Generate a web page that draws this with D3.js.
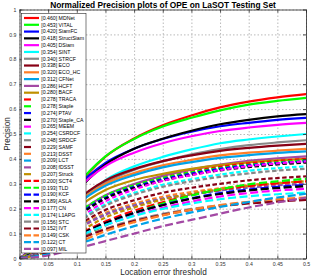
<!DOCTYPE html>
<html><head><meta charset="utf-8">
<script src="https://cdn.jsdelivr.net/npm/d3@7"></script>
<style>
body{margin:0;background:#fff}
svg{display:block;font-family:"Liberation Sans",Arial,sans-serif}
</style>
</head><body>
<svg id="c" width="311" height="277"></svg>
<script>
// ---------- data ----------
const thresholds = [0,0.05,0.1,0.15,0.2,0.25,0.3,0.35,0.4,0.45,0.5];
const xTickValues = [0,0.05,0.1,0.15,0.2,0.25,0.3,0.35,0.4,0.45,0.5];
const xTickLabels = ["0","0.05","0.1","0.15","0.2","0.25","0.3","0.35","0.4","0.45","0.5"];
const yTickValues = [0,0.1,0.2,0.3,0.4,0.5,0.6,0.7,0.8,0.9,1];
const yTickLabels = ["0","0.1","0.2","0.3","0.4","0.5","0.6","0.7","0.8","0.9","1"];

const trackers = ["MDNet","VITAL","SiamFC","StructSiam","DSiam","SINT","STRCF","ECO","ECO_HC","CFNet","HCFT","BACF",
  "TRACA","Staple","PTAV","Staple_CA","MEEM","CSRDCF","SRDCF","SAMF","DSST","LCT","fDSST","Struck",
  "SCT4","TLD","KCF","ASLA","CN","L1APG","STC","IVT","CSK","CT","MIL"];
const scores = [0.460,0.453,0.420,0.418,0.405,0.354,0.340,0.338,0.320,0.312,0.286,0.280,
  0.278,0.278,0.274,0.270,0.265,0.254,0.248,0.229,0.213,0.209,0.208,0.207,
  0.200,0.193,0.190,0.189,0.177,0.174,0.156,0.152,0.149,0.122,0.097];
const precision = [
  [0,.092,.284,.409,.482,.535,.574,.607,.630,.647,.660],
  [0,.095,.290,.410,.480,.530,.565,.595,.618,.633,.645],
  [0,.102,.283,.384,.441,.480,.509,.531,.545,.557,.565],
  [0,.093,.267,.377,.441,.481,.513,.539,.557,.571,.580],
  [0,.098,.273,.371,.425,.463,.491,.512,.526,.537,.545],
  [0,.075,.220,.315,.370,.408,.438,.463,.478,.490,.500],
  [0,.071,.214,.304,.356,.390,.418,.439,.455,.466,.475],
  [0,.083,.230,.313,.359,.391,.414,.432,.444,.453,.460],
  [0,.079,.220,.299,.343,.374,.396,.414,.425,.433,.440],
  [0,.077,.215,.292,.335,.366,.387,.404,.415,.424,.430],
  [0,.057,.176,.254,.299,.332,.357,.377,.392,.402,.410],
  [0,.070,.200,.275,.315,.340,.360,.375,.386,.394,.400],
  [0,.056,.172,.248,.292,.324,.348,.368,.382,.392,.400],
  [0,.060,.178,.252,.294,.324,.346,.363,.376,.386,.395],
  [0,.055,.170,.244,.287,.318,.341,.360,.374,.383,.390],
  [0,.054,.166,.240,.283,.313,.336,.354,.367,.378,.385],
  [0,.047,.152,.230,.277,.312,.335,.355,.371,.382,.390],
  [0,.044,.144,.218,.263,.296,.318,.337,.352,.363,.370],
  [0,.043,.140,.212,.256,.288,.310,.328,.342,.353,.360],
  [0,.040,.129,.195,.234,.264,.284,.300,.314,.323,.330],
  [0,.037,.121,.183,.220,.248,.267,.282,.295,.304,.310],
  [0,.036,.117,.177,.213,.240,.258,.273,.285,.294,.300],
  [0,.035,.115,.176,.212,.240,.259,.274,.286,.294,.300],
  [0,.030,.100,.165,.205,.237,.260,.278,.292,.302,.310],
  [0,.028,.093,.149,.192,.226,.254,.276,.291,.302,.310],
  [0,.019,.077,.134,.182,.221,.253,.278,.298,.310,.320],
  [0,.027,.089,.142,.183,.215,.242,.263,.277,.288,.295],
  [0,.028,.090,.142,.183,.214,.240,.259,.273,.283,.290],
  [0,.025,.084,.134,.173,.204,.229,.249,.263,.273,.280],
  [0,.027,.085,.134,.171,.199,.221,.238,.250,.258,.265],
  [0,.024,.076,.120,.154,.179,.199,.214,.226,.234,.240],
  [0,.023,.074,.117,.150,.175,.195,.210,.221,.229,.235],
  [0,.016,.062,.110,.146,.173,.196,.214,.228,.238,.245],
  [0,.018,.055,.095,.130,.160,.185,.207,.227,.245,.260],
  [0,.012,.040,.070,.100,.130,.155,.180,.205,.225,.245]
];

// ---------- styles ----------
const palette = ["#ff0000","#00ff00","#0000ff","#000000","#ff00ff","#00ffff",
  "#888888","#880015","#ff7f27","#00a2e8","#a349a4","#bf9000"];
const curveDash = ["none","4.5,2.5","8,3.5"];
const legendDash = ["none","7,20","7,2.5"];

// ---------- layout ----------
const svg = d3.select("#c");
const X0 = 19.5, X1 = 306, Y0 = 258.5, Y1 = 9.5;
const x = d3.scaleLinear().domain([0,0.5]).range([X0,X1]);
const y = d3.scaleLinear().domain([0,1]).range([Y0,Y1]);

svg.append("rect").attr("width",311).attr("height",277).attr("fill","#fff");

// grid
const gx = svg.append("g").attr("transform",`translate(0,${Y0})`)
  .call(d3.axisBottom(x).tickValues(xTickValues).tickSizeInner(-(Y0-Y1)).tickSizeOuter(0).tickFormat(""));
const gy = svg.append("g").attr("transform",`translate(${X0},0)`)
  .call(d3.axisLeft(y).tickValues(yTickValues).tickSizeInner(-(X1-X0)).tickSizeOuter(0).tickFormat(""));
[gx,gy].forEach(g=>{
  g.select(".domain").remove();
  g.selectAll("line").attr("stroke","#a8a8a8").attr("stroke-width",0.8).attr("stroke-dasharray","1.5,2");
});

// curves
svg.append("clipPath").attr("id","clip").append("rect")
  .attr("x",X0).attr("y",Y1).attr("width",X1-X0).attr("height",Y0-Y1);
const line = d3.line().x((d,i)=>x(thresholds[i])).y(d=>y(d)).curve(d3.curveMonotoneX);
const gc = svg.append("g").attr("clip-path","url(#clip)");
precision.forEach((vals,k)=>{
  gc.append("path").attr("d",line(vals)).attr("fill","none")
    .attr("stroke",palette[k%12]).attr("stroke-width",2.2)
    .attr("stroke-dasharray",curveDash[Math.floor(k/12)]);
});

// axes (box, inward ticks)
function styleAxis(g){
  g.select(".domain").attr("stroke","#262626").attr("stroke-width",0.8);
  g.selectAll(".tick line").attr("stroke","#262626").attr("stroke-width",0.8);
  g.selectAll("text").attr("fill","#333").attr("font-size",5.2).attr("font-family","Liberation Sans, Arial, sans-serif");
}
styleAxis(svg.append("g").attr("transform",`translate(0,${Y0})`)
  .call(d3.axisBottom(x).tickValues(xTickValues).tickFormat((d,i)=>xTickLabels[i]).tickSizeInner(-3).tickSizeOuter(0).tickPadding(3.5)));
styleAxis(svg.append("g").attr("transform",`translate(0,${Y1})`)
  .call(d3.axisTop(x).tickValues(xTickValues).tickFormat("").tickSizeInner(-3).tickSizeOuter(0)));
styleAxis(svg.append("g").attr("transform",`translate(${X0},0)`)
  .call(d3.axisLeft(y).tickValues(yTickValues).tickFormat((d,i)=>yTickLabels[i]).tickSizeInner(-3).tickSizeOuter(0).tickPadding(3)));
styleAxis(svg.append("g").attr("transform",`translate(${X1},0)`)
  .call(d3.axisRight(y).tickValues(yTickValues).tickFormat("").tickSizeInner(-3).tickSizeOuter(0)));

// labels
const title = svg.append("text").attr("x",163).attr("y",8).attr("text-anchor","middle")
  .attr("font-weight","bold").attr("font-size",8).attr("fill","#000")
  .text("Normalized Precision plots of OPE on LaSOT Testing Set");
const tw = title.node().getComputedTextLength();
title.attr("font-size", 8*226/tw);

svg.append("text").attr("x",163.5).attr("y",275).attr("text-anchor","middle")
  .attr("font-size",8.2).attr("fill","#262626").text("Location error threshold");
svg.append("text").attr("transform",`translate(9.5,${(Y0+Y1)/2}) rotate(-90)`).attr("text-anchor","middle")
  .attr("font-size",8.2).attr("fill","#262626").text("Precision");

// legend
const LX0 = 21.5, LY0 = 13.5, LX1 = 86, LY1 = 253, rowH = 6.79, row0 = 18;
const lg = svg.append("g");
lg.append("rect").attr("x",LX0).attr("y",LY0).attr("width",LX1-LX0).attr("height",LY1-LY0)
  .attr("fill","#fff").attr("stroke","#262626").attr("stroke-width",0.6);
trackers.forEach((name,k)=>{
  const yy = row0 + k*rowH;
  lg.append("line").attr("x1",24).attr("x2",39).attr("y1",yy).attr("y2",yy)
    .attr("stroke",palette[k%12]).attr("stroke-width",2.2)
    .attr("stroke-dasharray",legendDash[Math.floor(k/12)]);
  lg.append("text").attr("x",41.3).attr("y",yy+1.8).attr("font-size",5.2).attr("fill","#000")
    .text(`[${scores[k].toFixed(3)}] ${name}`);
});
</script>
</body></html>
